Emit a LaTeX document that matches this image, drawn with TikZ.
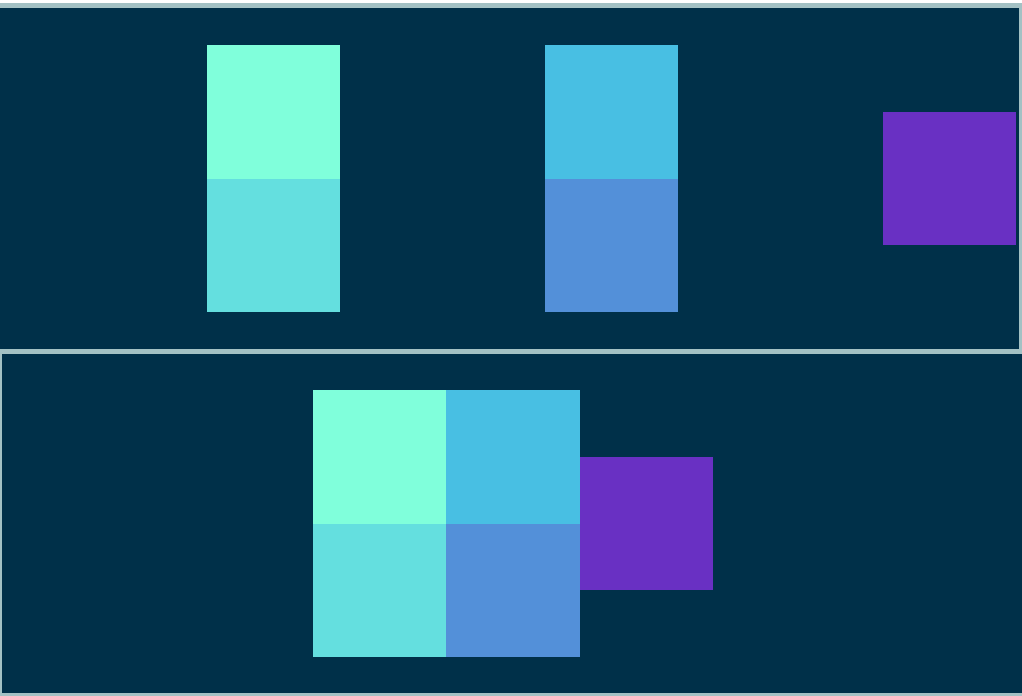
\documentclass[tikz,border=0pt]{standalone}
\definecolor{bgdark}{HTML}{003049}
\definecolor{frame}{HTML}{A3C1C4}
\definecolor{mint}{HTML}{80FFDB}
\definecolor{turq}{HTML}{64DFDF}
\definecolor{sky}{HTML}{48BFE3}
\definecolor{bluec}{HTML}{5390D9}
\definecolor{purp}{HTML}{6930C3}
\begin{document}
\begin{tikzpicture}[x=0.75pt,y=-0.75pt]
\useasboundingbox (0,0) rectangle (1022,696);
\fill[white] (0,0) rectangle (1022,696);
\fill[frame] (0,3) rectangle (1022,696);
\fill[bgdark] (0,8) rectangle (1019,349);
\fill[bgdark] (2,354) rectangle (1022,693);
% top panel
\fill[mint] (207,45) rectangle (340,179);
\fill[turq] (207,179) rectangle (340,312);
\fill[sky] (545,45) rectangle (678,179);
\fill[bluec] (545,179) rectangle (678,312);
\fill[purp] (883,112) rectangle (1016,245);
% bottom panel
\fill[mint] (313,390) rectangle (446,524);
\fill[sky] (446,390) rectangle (580,524);
\fill[turq] (313,524) rectangle (446,657);
\fill[bluec] (446,524) rectangle (580,657);
\fill[purp] (580,457) rectangle (713,590);
\end{tikzpicture}
\end{document}
